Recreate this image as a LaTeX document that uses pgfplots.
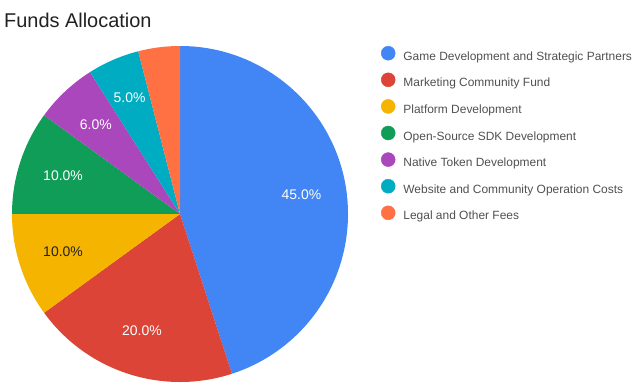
\documentclass[border=0pt]{standalone}
\usepackage{pgfplots}
\usepackage{pgfplotstable}
\pgfplotsset{compat=1.18}
\usepackage{fontspec}
\setmainfont{Liberation Sans}
\definecolor{cA}{RGB}{66,133,244}
\definecolor{cB}{RGB}{219,68,55}
\definecolor{cC}{RGB}{244,180,0}
\definecolor{cD}{RGB}{15,157,88}
\definecolor{cE}{RGB}{171,71,188}
\definecolor{cF}{RGB}{0,172,193}
\definecolor{cG}{RGB}{255,112,67}
\definecolor{legendgray}{RGB}{80,80,80}
\definecolor{titlegray}{RGB}{33,33,33}
\definecolor{darklabel}{RGB}{34,34,34}
\pgfplotstableread[col sep=comma]{
label,value,color,tcolor
Game Development and Strategic Partners,45,cA,white
Marketing Community Fund,20,cB,white
Platform Development,10,cC,darklabel
Open-Source SDK Development,10,cD,white
Native Token Development,6,cE,white
Website and Community Operation Costs,5,cF,white
Legal and Other Fees,4,cG,white
}\funds
\begin{document}
\begin{tikzpicture}
\begin{axis}[
  scale only axis, width=638bp, height=386bp,
  xmin=0, xmax=638, ymin=0, ymax=386,
  hide axis, clip=false,
  /pgf/number format/assume math mode=true,
  title={Funds Allocation},
  title style={at={(0.00627,0.9145)}, anchor=base west, inner sep=0pt,
    font=\fontsize{20}{24}\selectfont, text=titlegray},
  legend cell align=left,
  legend style={draw=none, fill=none, at={(0.5972,0.8808)}, anchor=north west,
    font=\fontsize{12}{14}\selectfont, text=legendgray,
    inner sep=0pt, outer sep=0pt, row sep=9.4bp, column sep=8bp,
    nodes={inner sep=0pt, text height=9bp, text depth=3bp}},
]
\pgfplotstablegetrowsof{\funds}
\pgfmathtruncatemacro{\N}{\pgfplotsretval-1}
\def\cum{0}
\pgfplotsforeachungrouped \i in {0,...,\N}{%
  \pgfplotstablegetelem{\i}{value}\of{\funds}\let\v\pgfplotsretval
  \pgfplotstablegetelem{\i}{color}\of{\funds}\let\c\pgfplotsretval
  \pgfplotstablegetelem{\i}{tcolor}\of{\funds}\let\tc\pgfplotsretval
  \pgfplotstablegetelem{\i}{label}\of{\funds}\let\l\pgfplotsretval
  \pgfmathsetmacro{\aa}{90-3.6*\cum}%
  \pgfmathsetmacro{\ab}{90-3.6*(\cum+\v)}%
  \pgfmathsetmacro{\am}{(\aa+\ab)/2}%
  \pgfmathsetmacro{\lr}{\v<5.5 ? 127 : 123}%
  \pgfmathsetmacro{\lx}{180+\lr*cos(\am)}%
  \pgfmathsetmacro{\ly}{172+\lr*sin(\am)}%
  \pgfmathsetmacro{\cum}{\cum+\v}%
  \pgfmathtruncatemacro{\show}{\v>4.5 ? 1 : 0}%
  \edef\temp{\noexpand\fill[\c] (axis cs:180,172) -- ++(\aa:168bp) arc[start angle=\aa, end angle=\ab, radius=168bp] -- cycle;}%
  \temp
  \ifnum\show=1
    \edef\temp{\noexpand\node[text=\tc, font=\noexpand\fontsize{14}{16}\noexpand\selectfont, inner sep=0pt] at (axis cs:\lx,\ly) {\noexpand\pgfmathprintnumber[fixed, fixed zerofill, precision=1]{\v}\noexpand\%};}%
    \temp
  \fi
  \edef\temp{\noexpand\addlegendimage{legend image code/.code={\noexpand\fill[\c] (6bp,4bp) circle[radius=7bp];}}\noexpand\addlegendentry{\l}}%
  \temp
}
\end{axis}
\pgfresetboundingbox
\useasboundingbox (0,0) rectangle (638bp,386bp);
\end{tikzpicture}
\end{document}
